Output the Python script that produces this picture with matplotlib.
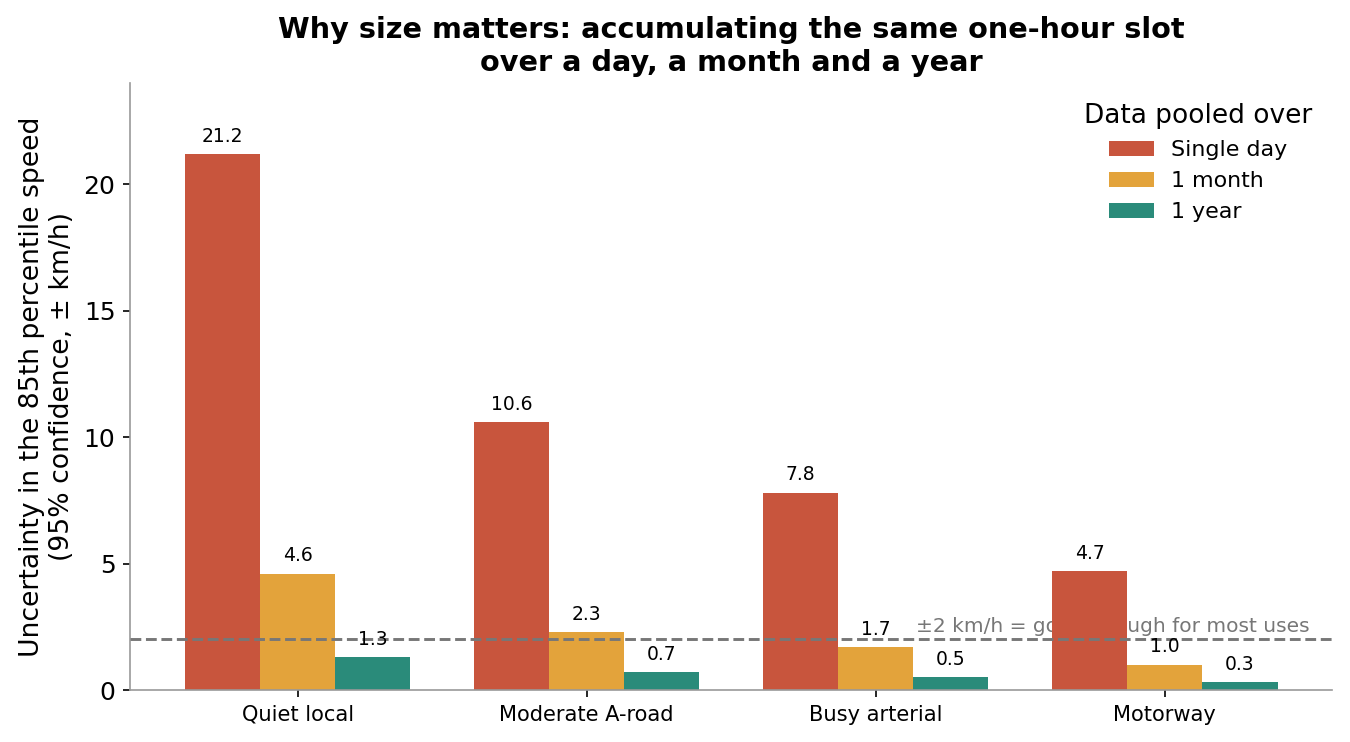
import matplotlib.pyplot as plt
import numpy as np

# Road types and uncertainty (± km/h) of the 85th percentile speed
roads = ['Quiet local', 'Moderate A-road', 'Busy arterial', 'Motorway']
periods = ['Single day', '1 month', '1 year']
single_day = [21.2, 10.6, 7.8, 4.7]
one_month = [4.6, 2.3, 1.7, 1.0]
one_year = [1.3, 0.7, 0.5, 0.3]

colors = ['#C8553D', '#E3A33B', '#2A8B7A']
series = [single_day, one_month, one_year]

fig, ax = plt.subplots(figsize=(9, 4.947), dpi=150)
fig.subplots_adjust(left=0.0963, right=0.987, top=0.888, bottom=0.070)

x = np.arange(len(roads))
width = 0.26
for i, (vals, name, c) in enumerate(zip(series, periods, colors)):
    pos = x + (i - 1) * width
    ax.bar(pos, vals, width=width, color=c, label=name, zorder=2)
    for px, v in zip(pos, vals):
        ax.annotate(f'{v:.1f}', (px, v), xytext=(0, 4), textcoords='offset points',
                    ha='center', va='bottom', fontsize=9, zorder=4)

# reference line
ax.axhline(2, color='#777777', linestyle='--', linewidth=1.4, zorder=3)
ax.text(3.5, 2.15, '±2 km/h = good enough for most uses', ha='right', va='bottom',
        fontsize=9.7, color='#777777', zorder=1)

ax.set_xticks(x)
ax.set_xticklabels(roads, fontsize=10.1)
ax.tick_params(axis='y', labelsize=12)
ax.set_xlim(-0.58, 3.58)
ax.set_ylim(0, 24)
ax.set_yticks([0, 5, 10, 15, 20])

ax.set_ylabel('Uncertainty in the 85th percentile speed\n(95% confidence, ± km/h)', fontsize=12.8)
ax.set_title('Why size matters: accumulating the same one-hour slot\nover a day, a month and a year',
             fontsize=13.8, fontweight='bold')

for s in ['top', 'right']:
    ax.spines[s].set_visible(False)
for s in ['left', 'bottom']:
    ax.spines[s].set_color('#999999')

leg = ax.legend(title='Data pooled over', frameon=False, loc='upper right',
                fontsize=10.6, title_fontsize=12.7)

fig.savefig('out.png', dpi=150)
